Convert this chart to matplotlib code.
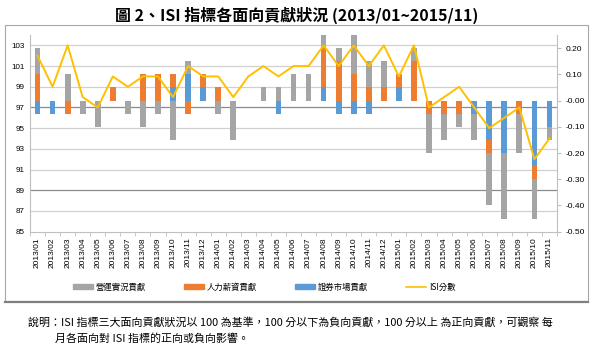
import numpy as np
import matplotlib.pyplot as plt
from matplotlib.lines import Line2D
from matplotlib.patches import Patch, Rectangle

plt.rcParams['font.family'] = ['Noto Sans CJK TC', 'DejaVu Sans']

# 月份
months = ['2013/01', '2013/02', '2013/03', '2013/04', '2013/05', '2013/06',
          '2013/07', '2013/08', '2013/09', '2013/10', '2013/11', '2013/12',
          '2014/01', '2014/02', '2014/03', '2014/04', '2014/05', '2014/06',
          '2014/07', '2014/08', '2014/09', '2014/10', '2014/11', '2014/12',
          '2015/01', '2015/02', '2015/03', '2015/04', '2015/05', '2015/06',
          '2015/07', '2015/08', '2015/09', '2015/10', '2015/11']

# 營運實況貢獻
operation = [0.10, 0, 0.10, -0.05, -0.10, 0, -0.05, -0.10, -0.05, -0.15,
             0.05, 0, -0.05, -0.15, 0, 0.05, 0.05, 0.10, 0.10, 0.10,
             0.05, 0.20, 0.10, 0.10, 0, 0.05, -0.15, -0.10, -0.05, -0.10,
             -0.20, -0.25, -0.15, -0.15, -0.05]
# 人力薪資貢獻
labor = [0.10, 0, -0.05, 0, 0, 0.05, 0, 0.10, 0.10, 0.05,
         -0.05, 0.05, 0.05, 0, 0, 0, 0, 0, 0, 0.15,
         0.15, 0.10, 0.05, 0.05, 0.05, 0.15, -0.05, -0.05, -0.05, 0,
         -0.05, 0, -0.05, -0.05, 0]
# 證券市場貢獻
market = [-0.05, -0.05, 0, 0, 0, 0, 0, 0, 0, 0.05,
          0.10, 0.05, 0, 0, 0, 0, -0.05, 0, 0, 0.05,
          -0.05, -0.05, -0.05, 0, 0.05, 0, 0, 0, 0, -0.05,
          -0.15, -0.20, 0, -0.25, -0.10]
# ISI分數
isi = [102, 99, 103, 98, 97, 100, 99, 100, 100, 98, 101, 100, 100, 98, 100,
       101, 100, 101, 101, 103, 101, 103, 101, 103, 100, 103, 97, 98, 99, 97,
       95, 96, 97, 92, 94]

c_gray = '#A5A5A5'
c_orange = '#ED7D31'
c_blue = '#5B9BD5'
c_yellow = '#FFC000'

fig = plt.figure(figsize=(5.94, 3.5), dpi=100)
ax = fig.add_axes([30/594, 1-231.7/350, 527/594, 196.7/350])
x = np.arange(len(months))

# 背景格線 (左軸)
ax.set_ylim(85, 104)
ax.set_xlim(-0.5, len(months)-0.5)
for v in range(87, 104, 2):
    col = '#8a8a8a' if v in (97, 89) else '#d0d0d0'
    ax.axhline(v, color=col, lw=0.9, zorder=0)
ax.set_yticks(range(85, 104, 2))
ax.tick_params(axis='y', length=0, labelsize=5.8, pad=4)
for t in ax.get_yticklabels():
    t.set_family('Liberation Sans')
ax.set_xticks(x)
ax.set_xticklabels(months, rotation=90, fontsize=6, family='Liberation Sans')
ax.set_xticks(np.arange(-0.5, len(months), 1), minor=True)
ax.tick_params(axis='x', which='major', length=0, pad=4)
ax.tick_params(axis='x', which='minor', length=3, color='#bfbfbf')
for s in ['top', 'right']:
    ax.spines[s].set_visible(False)
ax.spines['left'].set_color('#bfbfbf')
ax.spines['bottom'].set_color('#bfbfbf')

# 堆疊長條 (右軸)
axr = ax.twinx()
axr.set_ylim(-0.5, 0.25)
pos = np.zeros(len(months))
neg = np.zeros(len(months))
for vals, col in [(market, c_blue), (labor, c_orange), (operation, c_gray)]:
    v = np.array(vals)
    bottom = np.where(v >= 0, pos, neg)
    axr.bar(x, v, width=0.38, bottom=bottom, color=col)
    pos += np.clip(v, 0, None)
    neg += np.clip(v, None, 0)
axr.set_yticks(np.arange(-0.5, 0.21, 0.1))
axr.set_yticklabels([f'{t:.2f}' for t in np.arange(-0.5, 0.21, 0.1)],
                    family='Liberation Sans')
axr.tick_params(axis='y', length=3, color='#bfbfbf', labelsize=6, pad=3)
for s in ['top', 'left', 'bottom']:
    axr.spines[s].set_visible(False)
axr.spines['right'].set_color('#bfbfbf')

# ISI 線 (左軸刻度)
axl = ax.twinx()
axl.set_ylim(85, 104)
axl.plot(x, isi, color=c_yellow, lw=1.4)
axl.axis('off')

# 圖例
handles = [Patch(color=c_gray), Patch(color=c_orange), Patch(color=c_blue),
           Line2D([], [], color=c_yellow, lw=1.2)]
labels = ['營運實況貢獻', '人力薪資貢獻', '證券市場貢獻', 'ISI分數']
fig.legend(handles, labels, loc='center', bbox_to_anchor=(0.445, 1-287/350),
           ncol=4, frameon=False, fontsize=6, handlelength=2.4,
           handleheight=0.5, columnspacing=4.6, handletextpad=0.3)

# 外框
fig.patches.append(Rectangle((5/594, 1-301/350), 583/594, 276/350,
                             transform=fig.transFigure, fill=False,
                             edgecolor='#a6a6a6', lw=0.8))
fig.add_artist(Line2D([5/594, 588/594], [1-301.5/350, 1-301.5/350],
                      transform=fig.transFigure, color='#808080', lw=1.6))

fig.text(0.5, 1-15/350, '圖 2、ISI 指標各面向貢獻狀況 (2013/01~2015/11)',
         ha='center', va='center', fontsize=11.5, fontweight='bold')
fig.text(28/594, 1-323/350,
         '說明：ISI 指標三大面向貢獻狀況以 100 為基準，100 分以下為負向貢獻，100 分以上 為正向貢獻，可觀察 每',
         ha='left', va='center', fontsize=7.9)
fig.text(55/594, 1-339/350, '月各面向對 ISI 指標的正向或負向影響。',
         ha='left', va='center', fontsize=7.9)

fig.savefig('out.png', dpi=100)
